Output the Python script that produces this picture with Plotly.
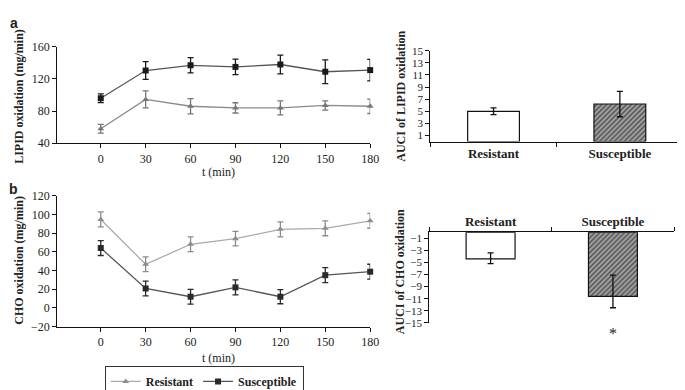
import plotly.graph_objects as go

# ---------------- data ----------------
time_min = [0, 30, 60, 90, 120, 150, 180]

lipid_resistant = [58, 94.5, 86, 84, 84, 87, 86]
lipid_resistant_err = [5.5, 10.6, 9.4, 6.4, 8.8, 5.8, 9]
lipid_susceptible = [96, 130.5, 137, 135, 138, 129, 131]
lipid_susceptible_err = [5.5, 11, 9.5, 9.7, 11.7, 14.7, 13.3]

cho_resistant = [94.5, 46.6, 68, 74, 84, 85, 93]
cho_resistant_err = [8, 7.9, 7.9, 7.7, 8, 7.9, 7.9]
cho_susceptible = [64, 20.8, 12, 22, 12, 35, 38.7]
cho_susceptible_err = [8, 7.9, 7.9, 8, 7.5, 8, 8]

groups = ["Resistant", "Susceptible"]
auci_lipid = [5.0, 6.2]
auci_lipid_err = [0.55, 2.1]
auci_cho = [-4.4, -10.6]
auci_cho_err_up = [1.0, 3.5]
auci_cho_err_down = [0.8, 1.9]

lipid_ticks = [40, 80, 120, 160]
cho_ticks = [-20, 0, 20, 40, 60, 80, 100, 120]
auci_lipid_ticks = [1, 3, 5, 7, 9, 11, 13, 15]
auci_cho_ticks = [-1, -3, -5, -7, -9, -11, -13, -15]

# ---------------- figure ----------------
W, H = 685, 390
SERIF = "Liberation Serif"
fig = go.Figure()


def px_x(p):
    return p / W


def px_y(p):
    return 1 - p / H


def line_trace(x, y, err, name, lcolor, mcolor, symbol, xa, ya, showlegend, msize):
    return go.Scatter(
        x=x, y=y, name="<b>" + name + "</b>", mode="lines+markers",
        line=dict(color=lcolor, width=1.3),
        marker=dict(symbol=symbol, size=msize, color=mcolor),
        error_y=dict(type="data", array=err, color=mcolor, thickness=1.3, width=3),
        xaxis=xa, yaxis=ya, showlegend=showlegend, cliponaxis=False,
    )


# panel a (lipid)
fig.add_trace(line_trace(time_min, lipid_susceptible, lipid_susceptible_err, "Susceptible",
                         "#555555", "#1a1a1a", "square", "x", "y", False, 6))
fig.add_trace(line_trace(time_min, lipid_resistant, lipid_resistant_err, "Resistant",
                         "#8a8a8a", "#777777", "triangle-up", "x", "y", False, 6))
# panel b (cho)
fig.add_trace(line_trace(time_min, cho_resistant, cho_resistant_err, "Resistant",
                         "#aaaaaa", "#8c8c8c", "triangle-up", "x2", "y2", True, 6))
fig.add_trace(line_trace(time_min, cho_susceptible, cho_susceptible_err, "Susceptible",
                         "#555555", "#2a2a2a", "square", "x2", "y2", True, 6))

# bar panels
bar_marker = dict(
    color=["white", "#555555"],
    line=dict(color="#111111", width=1.2),
    pattern=dict(shape=["", "/"], fgcolor="#222222", bgcolor="#aaaaaa", size=3.5, solidity=0.5),
)
fig.add_trace(go.Bar(
    x=groups, y=auci_lipid, width=0.41, marker=bar_marker, showlegend=False,
    error_y=dict(type="data", array=auci_lipid_err, color="#111111", thickness=1.3, width=3),
    xaxis="x3", yaxis="y3",
))
fig.add_trace(go.Bar(
    x=groups, y=auci_cho, width=0.4, marker=bar_marker, showlegend=False,
    error_y=dict(type="data", array=auci_cho_err_up, arrayminus=auci_cho_err_down,
                 color="#111111", thickness=1.3, width=3),
    xaxis="x4", yaxis="y4",
))

tickfont = dict(family=SERIF, size=12, color="#222222")
axis_common = dict(showline=True, linecolor="#111111", linewidth=1.3, showgrid=False,
                   zeroline=False, ticks="outside", ticklen=4, tickcolor="#111111",
                   tickfont=tickfont)

line_xdom = [px_x(50), px_x(367)]
fig.update_layout(
    width=W, height=H, margin=dict(l=0, r=0, t=0, b=0),
    paper_bgcolor="white", plot_bgcolor="white",
    font=dict(family=SERIF, color="#222222"),
    xaxis=dict(domain=line_xdom, range=[-29, 180], tickvals=time_min, anchor="y", **axis_common),
    yaxis=dict(domain=[px_y(133), px_y(33)], range=[40, 160], tickvals=lipid_ticks,
               anchor="x", **axis_common),
    xaxis2=dict(domain=line_xdom, range=[-29, 180], tickvals=time_min, anchor="y2", **axis_common),
    yaxis2=dict(domain=[px_y(323.3), px_y(187.3)], range=[-20, 120], tickvals=cho_ticks,
                anchor="x2", **axis_common),
    xaxis3=dict(domain=[px_x(428), px_x(684)], range=[-0.5, 1.5], anchor="y3",
                tickson="boundaries", tickvals=groups,
                ticktext=["<b>" + g + "</b>" for g in groups],
                **{**axis_common, "tickfont": dict(family=SERIF, size=13, color="#222222")}),
    yaxis3=dict(domain=[px_y(131.3), px_y(37)], range=[0, 15], tickvals=auci_lipid_ticks,
                anchor="x3", **{**axis_common, "tickfont": dict(family=SERIF, size=11, color="#222222")}),
    xaxis4=dict(domain=[px_x(427), px_x(675)], range=[-0.5, 1.5], anchor="y4", side="top",
                tickson="boundaries", tickvals=groups,
                ticktext=["<b>" + g + "</b>" for g in groups],
                **{**axis_common, "tickfont": dict(family=SERIF, size=13, color="#222222")}),
    yaxis4=dict(domain=[px_y(319.3), px_y(225.4)], range=[-15, 0], tickvals=auci_cho_ticks,
                anchor="x4", **{**axis_common, "tickfont": dict(family=SERIF, size=11, color="#222222")}),
    legend=dict(orientation="h", x=px_x(98), y=px_y(364), xanchor="left", yanchor="top",
                bordercolor="#333333", borderwidth=1, bgcolor="white",
                font=dict(family=SERIF, size=12, color="#222222"),
                itemwidth=30, tracegroupgap=0),
    bargap=0.5,
)

ann = []


def add_text(text, x, y, size=12, angle=0, family=SERIF, bold=True):
    ann.append(dict(text=("<b>" + text + "</b>") if bold else text, x=px_x(x), y=px_y(y),
                    xref="paper", yref="paper", showarrow=False, textangle=angle,
                    font=dict(family=family, size=size, color="#222222"),
                    xanchor="center", yanchor="middle"))


add_text("a", 6, 8, size=14, family="Liberation Sans")
add_text("b", 6, 180, size=14, family="Liberation Sans")
add_text("LIPID oxidation (mg/min)", 11, 84, size=12, angle=-90)
add_text("CHO oxidation (mg/min)", 11, 254, size=12, angle=-90)
add_text("AUCI of LIPID oxidation", 398, 84, size=12, angle=-90)
add_text("AUCI of CHO oxidation", 398, 266, size=12, angle=-90)
add_text("t (min)", 213, 163, size=12, bold=False)
add_text("t (min)", 213, 356, size=12, bold=False)
add_text("*", 613, 330, size=16, bold=False)
fig.update_layout(annotations=ann)

fig.write_html("out.html")
